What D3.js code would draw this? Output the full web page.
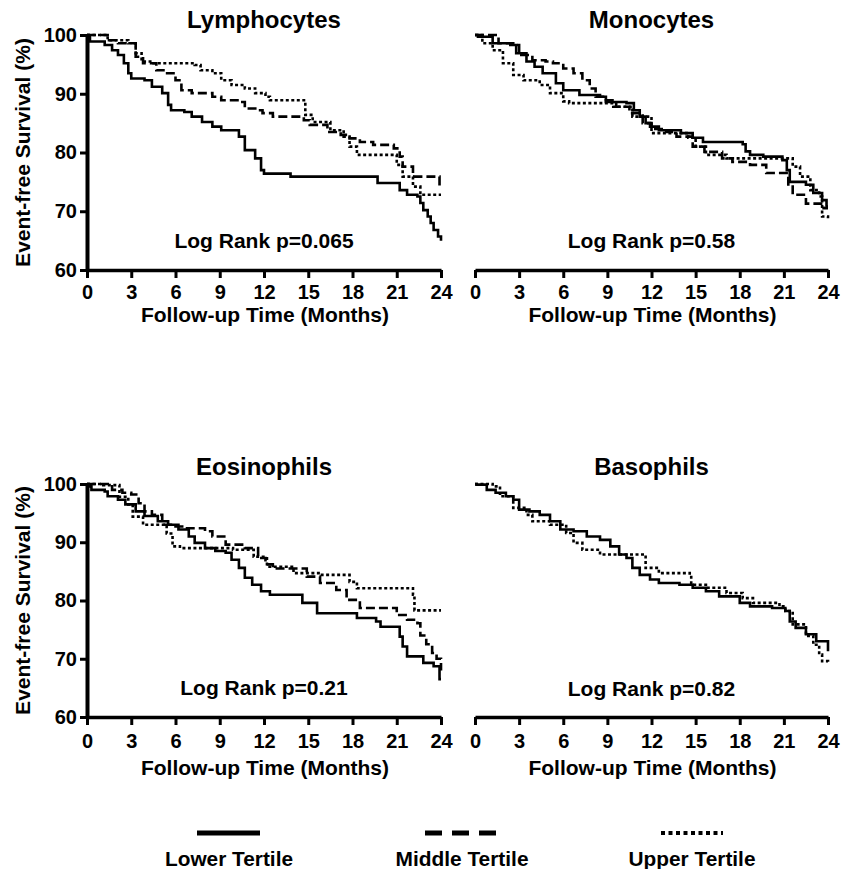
<!DOCTYPE html>
<html>
<head>
<meta charset="utf-8">
<script src="https://cdn.jsdelivr.net/npm/d3@7"></script>
<style>
  body { margin: 0; background: #fff; }
  svg text { font-family: "Liberation Sans", Arial, sans-serif; font-weight: bold; fill: #000; }
</style>
</head>
<body>
<svg id="km" width="841" height="869"></svg>
<script>
var svg = d3.select("#km");

// x ticks (months) and y ticks (%)
var monthTicks = [0, 3, 6, 9, 12, 15, 18, 21, 24];
var survivalTicks = [60, 70, 80, 90, 100];

var panelTitles = ["Lymphocytes", "Monocytes", "Eosinophils", "Basophils"];
var logRankLabels = ["Log Rank p=0.065", "Log Rank p=0.58", "Log Rank p=0.21", "Log Rank p=0.82"];
var tertileNames = ["Lower Tertile", "Middle Tertile", "Upper Tertile"];

// survival steps: [month, % event-free]
var lymphLower = [[0,100],[0.1,99.7],[0.2,98.9],[1.2,98.3],[1.7,97.4],[2.1,96.6],[2.5,95.2],[2.8,93.5],[3.0,92.6],[3.9,92.3],[4.4,91.2],[5.1,90.1],[5.5,88.1],[5.7,87.2],[6.6,86.9],[7.1,86.1],[7.8,85.2],[8.5,84.4],[9.1,83.8],[10.3,82.7],[10.7,80.4],[11.4,79],[11.8,77],[12,76.4],[13.8,75.9],[19.7,74.8],[21.2,73.6],[21.7,72.8],[22.4,72.5],[22.6,71.4],[22.8,70.2],[23.1,69.1],[23.3,68],[23.5,66.8],[23.8,65.7],[24,65]];
var lymphMiddle = [[0,100],[1.4,99.1],[2.1,98.6],[3.3,96.3],[3.8,95.2],[4.7,94],[5.3,93.5],[6.0,92.3],[6.4,90.6],[7.1,90.1],[8.5,89.5],[9.1,88.9],[10.3,88.6],[10.7,87.5],[11.6,87.2],[11.9,86.7],[12.6,86.1],[14.7,85.5],[15.1,84.7],[16.3,83.5],[17.2,83],[17.8,82.4],[18.5,81.8],[19.4,81.3],[20.8,80.7],[21.2,79.3],[21.4,77.6],[22.1,75.9],[23.9,74.2],[24,74.2]];
var lymphUpper = [[0,100],[1.4,99.1],[2.8,98.6],[3.3,96.9],[3.7,95.5],[4.4,95.2],[7.3,94.9],[7.7,94],[8.5,93.5],[9.1,92.3],[9.8,91.5],[10.7,90.9],[11.4,90.1],[12.1,89.5],[12.4,88.9],[14.8,86.4],[15.3,85.2],[16.5,83.8],[17.4,82.7],[17.8,81],[18.3,79.6],[21,77.9],[21.4,75.9],[22.1,74.2],[22.6,72.8],[24,72.8]];

var monoLower = [[0,100],[0.2,99.7],[1.2,98.6],[2.4,98.3],[2.8,96.9],[3.5,95.5],[4.05,94.6],[4.6,93.5],[5.5,91.8],[6.0,90.6],[7.1,89.8],[8.5,89.5],[8.9,88.6],[10.3,88.4],[10.8,87.2],[11.2,86.1],[11.6,85],[11.9,84.4],[12.5,83.8],[14,83.3],[14.8,82.5],[15.5,81.8],[18.2,81.4],[18.4,80.2],[18.7,79.6],[19.6,79.3],[20.9,78.7],[21.2,77],[21.4,75],[22.5,74.5],[23,73.1],[23.6,71.9],[23.9,70.8],[24,70.8]];
var monoMiddle = [[0,100],[0.7,100],[1.6,98.6],[2.6,98.3],[3.0,96.6],[3.9,95.7],[4.8,95.5],[5.3,95.2],[6.0,94.3],[6.7,93.5],[7.3,92.3],[7.8,90.9],[8.2,89.5],[8.9,88.9],[9.6,87.8],[10.5,86.7],[11.4,85],[12,84],[13,83.5],[13.7,82.7],[14.8,81],[15.6,80.1],[16.8,79],[17.5,78.4],[18.7,77.9],[19.8,76.5],[21.3,74.2],[21.6,72.8],[22.5,71.3],[23.7,70.5],[24,70.5]];
var monoUpper = [[0,100],[0.5,98.6],[1.2,97.4],[1.9,95.2],[2.6,93.2],[3.3,92.3],[4.4,91.5],[5.1,90.1],[6.0,88.7],[6.4,88.4],[9.4,87.8],[10.7,86.1],[12,83.3],[14.5,82.5],[15,81],[15.7,79.6],[17.1,79],[21.6,77.6],[22.1,75.9],[22.8,73.6],[23.4,72.5],[23.6,69.1],[24,68.8]];

var eosLower = [[0,100],[0.1,99.6],[0.3,99],[1.2,98.7],[1.4,97.9],[2.1,97.3],[2.6,96.5],[3.3,95.3],[3.9,94.5],[4.8,93.6],[5.5,93],[6.2,92.2],[6.9,91],[7.3,89.9],[8.0,89],[8.7,88.5],[9.4,88.2],[9.8,87],[10.3,85.6],[10.7,83.9],[11.2,82.7],[11.8,81.6],[12.4,81],[14.6,79.6],[15.6,77.8],[18.3,77],[19.6,76.4],[19.9,75.5],[21.2,73.8],[21.4,72.1],[21.7,70.4],[22.8,69.3],[23.5,68.7],[23.9,66.5],[24,66.5]];
var eosMiddle = [[0,100],[1.1,100],[1.7,99],[2.4,98.5],[3.0,98.2],[3.5,96.7],[3.9,95.3],[4.4,94.7],[5.1,93],[6.0,92.7],[6.6,92.4],[8.0,91.9],[8.5,91],[9.4,89.6],[10.7,89],[11.6,87.3],[12.1,86.2],[12.6,85.5],[14.9,84.1],[15.8,83],[16.9,81.8],[17.6,80.1],[18.5,78.7],[21,77.5],[21.7,76.7],[22.4,76.1],[22.6,74],[23,72.5],[23.4,71],[23.7,70],[24,68]];
var eosUpper = [[0,100],[1.1,99.8],[2.2,97.8],[2.8,96.5],[3.1,94.4],[3.8,93],[5.2,92.7],[5.4,91.5],[5.8,89.3],[6.3,89],[9.9,88.7],[11.3,87.5],[12.2,85.8],[14,84.7],[15.8,84.4],[17.8,83.2],[18.3,82.1],[22.1,81],[22.2,78.3],[24,78.3]];

var basoLower = [[0,100],[0.1,99.9],[0.8,99],[1.4,98.5],[2.1,97.9],[2.6,97.3],[3.0,95.6],[3.7,95.3],[4.4,94.7],[5.1,93.6],[5.8,92.2],[6.7,91.9],[7.6,91],[8.5,90.4],[9.2,89.3],[9.8,87.9],[10.3,87.3],[10.7,85.6],[11.2,84.4],[11.9,83.6],[12.5,83],[13.9,82.7],[14.8,82.2],[15.7,81.6],[16.6,80.7],[18,79.6],[18.7,79],[20.2,78.7],[21.1,78.2],[21.4,76.4],[21.8,75.3],[22.5,74.2],[23.2,73],[24,71.3]];
var basoUpper = [[0,100],[1.2,99.6],[1.7,97.9],[2.6,95.9],[3.5,94.7],[3.9,93.6],[5.1,93],[6.2,91.6],[6.7,89.9],[7.3,88.7],[8.5,87.9],[11.6,85.6],[12.5,84.7],[14.6,84.4],[14.7,82.7],[15.7,82.2],[17.1,81.3],[18.2,80.4],[18.9,79.6],[20.7,79],[21.1,78.2],[21.6,75.9],[22.5,73.9],[23,72.4],[23.4,70.7],[23.6,69.6],[24,69.5]];

// dash style per tertile
var tertileDash = ["none", "9,4", "3,2.5"];

var panels = [
  { left: 87, right: 441, top: 35, bottom: 270, yAxis: true, series: [lymphLower, lymphMiddle, lymphUpper], titleY: 28, rankY: 248, tickY: 299, xTitleY: 322 },
  { left: 475, right: 828, top: 35, bottom: 270, yAxis: false, series: [monoLower, monoMiddle, monoUpper], titleY: 28, rankY: 248, tickY: 299, xTitleY: 322 },
  { left: 87, right: 441, top: 484, bottom: 717, yAxis: true, series: [eosLower, eosMiddle, eosUpper], titleY: 475, rankY: 695, tickY: 748, xTitleY: 775 },
  { left: 475, right: 828, top: 484, bottom: 717, yAxis: false, series: [basoLower, null, basoUpper], titleY: 475, rankY: 696, tickY: 748, xTitleY: 775 }
];

panels.forEach(function (p, i) {
  var x = d3.scaleLinear().domain([0, 24]).range([p.left, p.right]);
  var y = d3.scaleLinear().domain([60, 100]).range([p.bottom, p.top]);
  var g = svg.append("g");

  // curves
  var line = d3.line()
    .x(function (d) { return x(d[0]); })
    .y(function (d) { return y(d[1]); })
    .curve(d3.curveStepAfter);

  p.series.forEach(function (s, k) {
    if (!s) return;
    g.append("path")
      .attr("d", line(s))
      .attr("fill", "none")
      .attr("stroke", "#000")
      .attr("stroke-width", 2.6)
      .attr("stroke-dasharray", tertileDash[k]);
  });

  //x-axis
  var xAxis = g.append("g")
    .attr("transform", "translate(0," + p.bottom + ")")
    .call(d3.axisBottom(x).tickValues(monthTicks).tickSize(8).tickSizeOuter(0).tickPadding(6));
  xAxis.select(".domain").attr("stroke-width", 3.5);
  xAxis.selectAll(".tick line").attr("stroke-width", 3);
  xAxis.selectAll(".tick text")
    .attr("font-size", 20)
    .attr("y", p.tickY - p.bottom)
    .attr("dy", 0);

  //y-axis only on the left column
  if (p.yAxis) {
    var yAxis = g.append("g")
      .attr("transform", "translate(" + p.left + ",0)")
      .call(d3.axisLeft(y).tickValues(survivalTicks).tickSize(7).tickSizeOuter(0).tickPadding(3));
    yAxis.select(".domain").attr("stroke-width", 4);
    yAxis.selectAll(".tick line").attr("stroke-width", 3);
    yAxis.selectAll(".tick text").attr("font-size", 20);

    svg.append("text")
      .attr("transform", "translate(22," + ((p.top + p.bottom) / 2) + ")rotate(-90)")
      .attr("text-anchor", "middle")
      .attr("dominant-baseline", "central")
      .attr("font-size", 21)
      .text("Event-free Survival (%)");
  }
  svg.selectAll(".tick text").attr("font-family", null).attr("fill", "#000");
  svg.selectAll(".domain, .tick line").attr("stroke", "#000");

  var cx = (p.left + p.right) / 2;
  svg.append("text").attr("x", cx).attr("y", p.titleY)
    .attr("text-anchor", "middle").attr("font-size", 24).text(panelTitles[i]);
  svg.append("text").attr("x", cx).attr("y", p.rankY)
    .attr("text-anchor", "middle").attr("font-size", 21).text(logRankLabels[i]);
  svg.append("text").attr("x", cx + 1).attr("y", p.xTitleY)
    .attr("text-anchor", "middle").attr("font-size", 21).text("Follow-up Time (Months)");
});

// legend
var legendLines = [[197, 260], [425, 496], [661, 723]];
var legendText = [[229, 128], [462, 133], [692, 127]];
var legendDash = ["none", "17,10", "4,3.5"];
tertileNames.forEach(function (name, k) {
  svg.append("line")
    .attr("x1", legendLines[k][0]).attr("x2", legendLines[k][1])
    .attr("y1", 833).attr("y2", 833)
    .attr("stroke", "#000")
    .attr("stroke-width", k == 2 ? 4 : 5)
    .attr("stroke-dasharray", legendDash[k]);
  svg.append("text")
    .attr("x", legendText[k][0]).attr("y", 866)
    .attr("text-anchor", "middle")
    .attr("font-size", 20)
    .attr("textLength", legendText[k][1])
    .attr("lengthAdjust", "spacingAndGlyphs")
    .text(name);
});
</script>
</body>
</html>
